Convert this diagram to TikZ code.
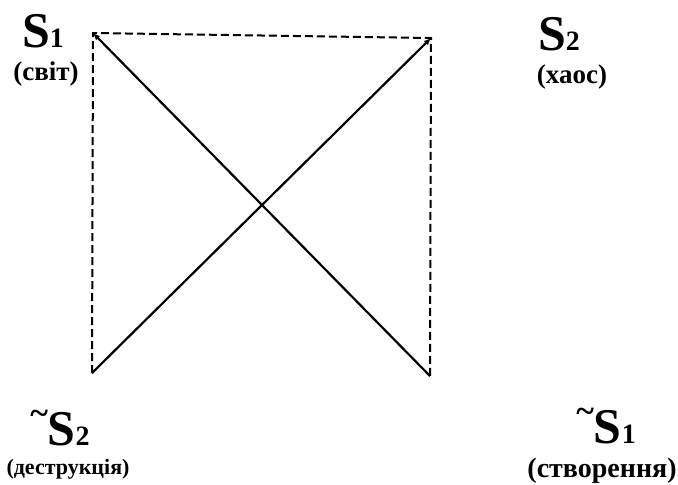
\documentclass[tikz,border=0pt]{standalone}
\usepackage{fontspec}
\setmainfont{Liberation Serif}
\usetikzlibrary{arrows.meta}
\newcommand{\idx}[1]{{\fontsize{14}{14}\selectfont #1}}
\newcommand{\nicht}{\raisebox{0.42em}{\fontsize{17}{17}\selectfont\textasciitilde}}

\begin{document}
\begin{tikzpicture}[x=0.5pt, y=-0.5pt,
				>={Latex[length=3.6pt,width=3pt]},   %Voreinstellung für Pfeilspitzen
				rand/.style={line width=1pt, dash pattern=on 4pt off 2pt},
				diag/.style={->, line width=1.1pt},
				sym/.style={font=\fontsize{25}{27}\selectfont\bfseries, inner sep=0pt, anchor=base},
				bed/.style={font=\fontsize{13.5}{15}\selectfont\bfseries, inner sep=0pt, anchor=base}]
				\useasboundingbox (0,0) rectangle (678,484);
				% Ecken des Quadrats
				\coordinate (ol) at (93,33);
				\coordinate (or) at (431,38);
				\coordinate (ul) at (92,373);
				\coordinate (ur) at (430,376);
				% Rand gestrichelt
				\draw[rand] (ul) -- (ol) -- (or) -- (ur);
				% Diagonalen
				\draw[diag] (ur) -- (ol);
				\draw[diag] (ul) -- (or);
				% Beschriftung
				\node[sym] (s1) at (43,47) {S\idx{1}};
				\node[bed] (s1b) at (46,80) {(світ)};
				\node[sym] (s2) at (559,50) {S\idx{2}};
				\node[bed] (s2b) at (572,83) {(хаос)};
				\node[sym] (ns2) at (60,445) {\nicht S\idx{2}};
				\node[bed, font=\fontsize{11}{13}\selectfont\bfseries] (ns2b) at (68,474) {(деструкція)};
				\node[sym] (ns1) at (606,443) {\nicht S\idx{1}};
				\node[bed, font=\fontsize{14}{16}\selectfont\bfseries] (ns1b) at (602,477) {(створення)};
			\end{tikzpicture}
\end{document}
